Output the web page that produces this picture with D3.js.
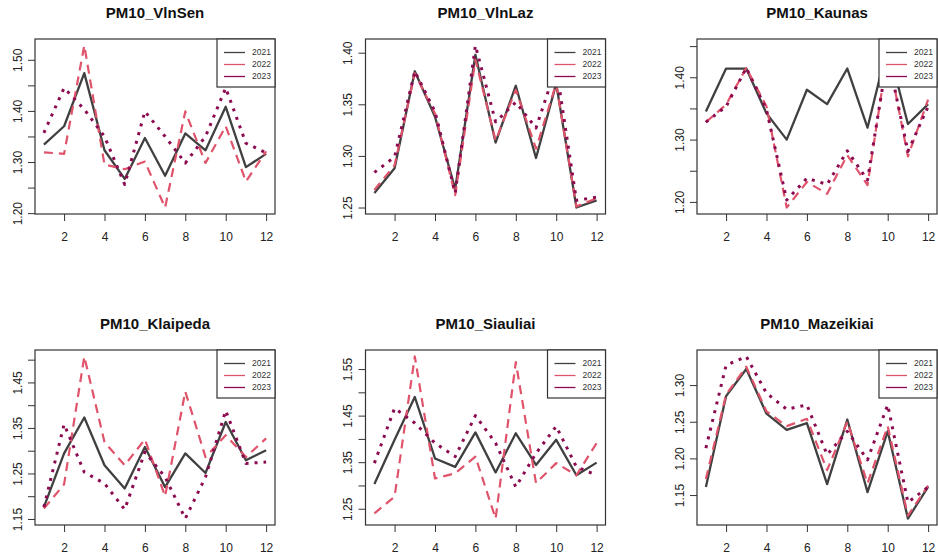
<!DOCTYPE html>
<html>
<head>
<meta charset="utf-8">
<script src="https://cdn.jsdelivr.net/npm/d3@7"></script>
<style>
  body { margin: 0; background: #fff; }
  svg { display: block; font-family: "Liberation Sans", Arial, sans-serif; }
</style>
</head>
<body>
<div id="chart"></div>
<script>
const months = d3.range(1, 13);
const years = ["2021", "2022", "2023"];
const stations = ["PM10_VlnSen", "PM10_VlnLaz", "PM10_Kaunas", "PM10_Klaipeda", "PM10_Siauliai", "PM10_Mazeikiai"];

// monthly values per station, rows = 2021, 2022, 2023
const vlnSen = [
  [1.334, 1.370, 1.474, 1.323, 1.267, 1.347, 1.273, 1.356, 1.323, 1.408, 1.290, 1.316],
  [1.319, 1.316, 1.528, 1.295, 1.286, 1.301, 1.211, 1.399, 1.298, 1.370, 1.262, 1.321],
  [1.357, 1.445, 1.403, 1.350, 1.256, 1.399, 1.350, 1.298, 1.350, 1.445, 1.337, 1.318]
];
const vlnLaz = [
  [1.264, 1.288, 1.382, 1.338, 1.268, 1.398, 1.313, 1.368, 1.298, 1.370, 1.250, 1.257],
  [1.267, 1.291, 1.380, 1.341, 1.262, 1.393, 1.315, 1.364, 1.307, 1.370, 1.251, 1.259],
  [1.284, 1.299, 1.382, 1.343, 1.264, 1.407, 1.333, 1.352, 1.327, 1.386, 1.257, 1.260]
];
const kaunas = [
  [1.345, 1.414, 1.414, 1.342, 1.300, 1.380, 1.357, 1.414, 1.319, 1.451, 1.325, 1.357],
  [1.328, 1.356, 1.415, 1.353, 1.191, 1.232, 1.213, 1.275, 1.227, 1.440, 1.273, 1.364],
  [1.328, 1.353, 1.415, 1.348, 1.203, 1.238, 1.228, 1.282, 1.235, 1.435, 1.281, 1.353]
];
const klaipeda = [
  [1.176, 1.294, 1.373, 1.268, 1.217, 1.308, 1.220, 1.294, 1.251, 1.363, 1.279, 1.301],
  [1.173, 1.226, 1.507, 1.319, 1.268, 1.325, 1.200, 1.430, 1.286, 1.334, 1.286, 1.327],
  [1.176, 1.358, 1.253, 1.228, 1.171, 1.297, 1.242, 1.151, 1.242, 1.388, 1.272, 1.275]
];
const siauliai = [
  [1.303, 1.398, 1.490, 1.358, 1.340, 1.414, 1.328, 1.412, 1.344, 1.398, 1.322, 1.349],
  [1.240, 1.276, 1.577, 1.315, 1.326, 1.362, 1.229, 1.565, 1.305, 1.348, 1.322, 1.391],
  [1.348, 1.466, 1.434, 1.391, 1.362, 1.450, 1.391, 1.297, 1.369, 1.427, 1.340, 1.322]
];
const mazeikiai = [
  [1.161, 1.285, 1.322, 1.261, 1.239, 1.248, 1.165, 1.253, 1.154, 1.237, 1.118, 1.161],
  [1.172, 1.287, 1.325, 1.264, 1.244, 1.254, 1.184, 1.250, 1.166, 1.244, 1.122, 1.163],
  [1.214, 1.327, 1.339, 1.289, 1.267, 1.273, 1.205, 1.237, 1.198, 1.273, 1.140, 1.161]
];
const series = [vlnSen, vlnLaz, kaunas, klaipeda, siauliai, mazeikiai];

const width = 938, height = 560;
const colLeft = [35, 365.5, 697];
const rowTop = [39, 350];
const boxW = 240, boxH = 175;

const colors = ["#404040", "#DF536B", "#8B0A50"];
const dashes = [null, "9,6", "3,6"];
const widths = [2.3, 2.2, 3];

const svg = d3.select("#chart").append("svg")
  .attr("width", width)
  .attr("height", height);

// R style axis range: data extent padded by 4% on each side
function rRange(lo, hi) {
  const pad = (hi - lo) * 0.04;
  return [lo - pad, hi + pad];
}

stations.forEach((name, i) => {
  const data = series[i];
  const x0 = colLeft[i % 3], y0 = rowTop[Math.floor(i / 3)];

  const x = d3.scaleLinear().domain(rRange(1, 12)).range([0, boxW]);
  const y = d3.scaleLinear().domain(rRange(d3.min(data.flat()), d3.max(data.flat()))).range([boxH, 0]);

  const g = svg.append("g").attr("transform", `translate(${x0},${y0})`);

  g.append("clipPath").attr("id", "clip" + i)
    .append("rect").attr("width", boxW).attr("height", boxH);

  const line = d3.line()
    .x((d, j) => x(months[j]))
    .y(d => y(d));

  g.append("g")
    .attr("clip-path", `url(#clip${i})`)
    .selectAll("path")
    .data(data)
    .join("path")
    .attr("fill", "none")
    .attr("stroke", (d, k) => colors[k])
    .attr("stroke-width", (d, k) => widths[k])
    .attr("stroke-dasharray", (d, k) => dashes[k])
    .attr("stroke-linejoin", "round")
    .attr("d", line);

  // y ticks every 0.05, label every other one when they get crowded
  const [lo, hi] = y.domain();
  const yTicks = d3.range(Math.ceil(lo / 0.05 - 1e-9), Math.floor(hi / 0.05 + 1e-9) + 1).map(k => k * 0.05);
  const crowded = Math.abs(y(yTicks[0]) - y(yTicks[1])) < 34;

  const yAxis = g.append("g")
    .call(d3.axisLeft(y).tickValues(yTicks).tickSize(7).tickFormat(""));
  yAxis.select(".domain").remove();
  yAxis.selectAll("line").attr("stroke", "#333");
  yAxis.selectAll(".tick")
    .filter((d, k) => !crowded || k % 2 === 0)
    .append("text")
    .attr("transform", "translate(-13.5,0) rotate(-90)")
    .attr("text-anchor", "middle")
    .attr("fill", "#222")
    .style("font-size", "12px")
    .text(d3.format(".2f"));

  const xAxis = g.append("g")
    .attr("transform", `translate(0,${boxH})`)
    .call(d3.axisBottom(x).tickValues(d3.range(2, 13, 2)).tickSize(7).tickPadding(11));
  xAxis.select(".domain").remove();
  xAxis.selectAll("line").attr("stroke", "#333");
  xAxis.selectAll("text")
    .attr("fill", "#222")
    .style("font-size", "12px");

  g.append("rect")
    .attr("width", boxW)
    .attr("height", boxH)
    .attr("fill", "none")
    .attr("stroke", "#333")
    .attr("stroke-width", 1.2);

  g.append("text")
    .attr("x", boxW / 2)
    .attr("y", -21.5)
    .attr("text-anchor", "middle")
    .attr("fill", "#111")
    .style("font-size", "15px")
    .style("font-weight", "bold")
    .text(name);

  // legend, top right corner
  const lg = g.append("g").attr("transform", `translate(${boxW - 58},0)`);
  lg.append("rect")
    .attr("width", 58)
    .attr("height", 48)
    .attr("fill", "#fff")
    .attr("stroke", "#333")
    .attr("stroke-width", 1.2);
  const item = lg.selectAll(".item")
    .data(years)
    .join("g")
    .attr("transform", (d, k) => `translate(0,${13.5 + k * 12})`);
  item.append("line")
    .attr("x1", 7).attr("x2", 28)
    .attr("stroke", (d, k) => colors[k])
    .attr("stroke-width", 1.3);
  item.append("text")
    .attr("x", 35)
    .attr("dy", "0.35em")
    .attr("fill", "#333")
    .style("font-size", "8.5px")
    .text(d => d);
});
</script>
</body>
</html>
